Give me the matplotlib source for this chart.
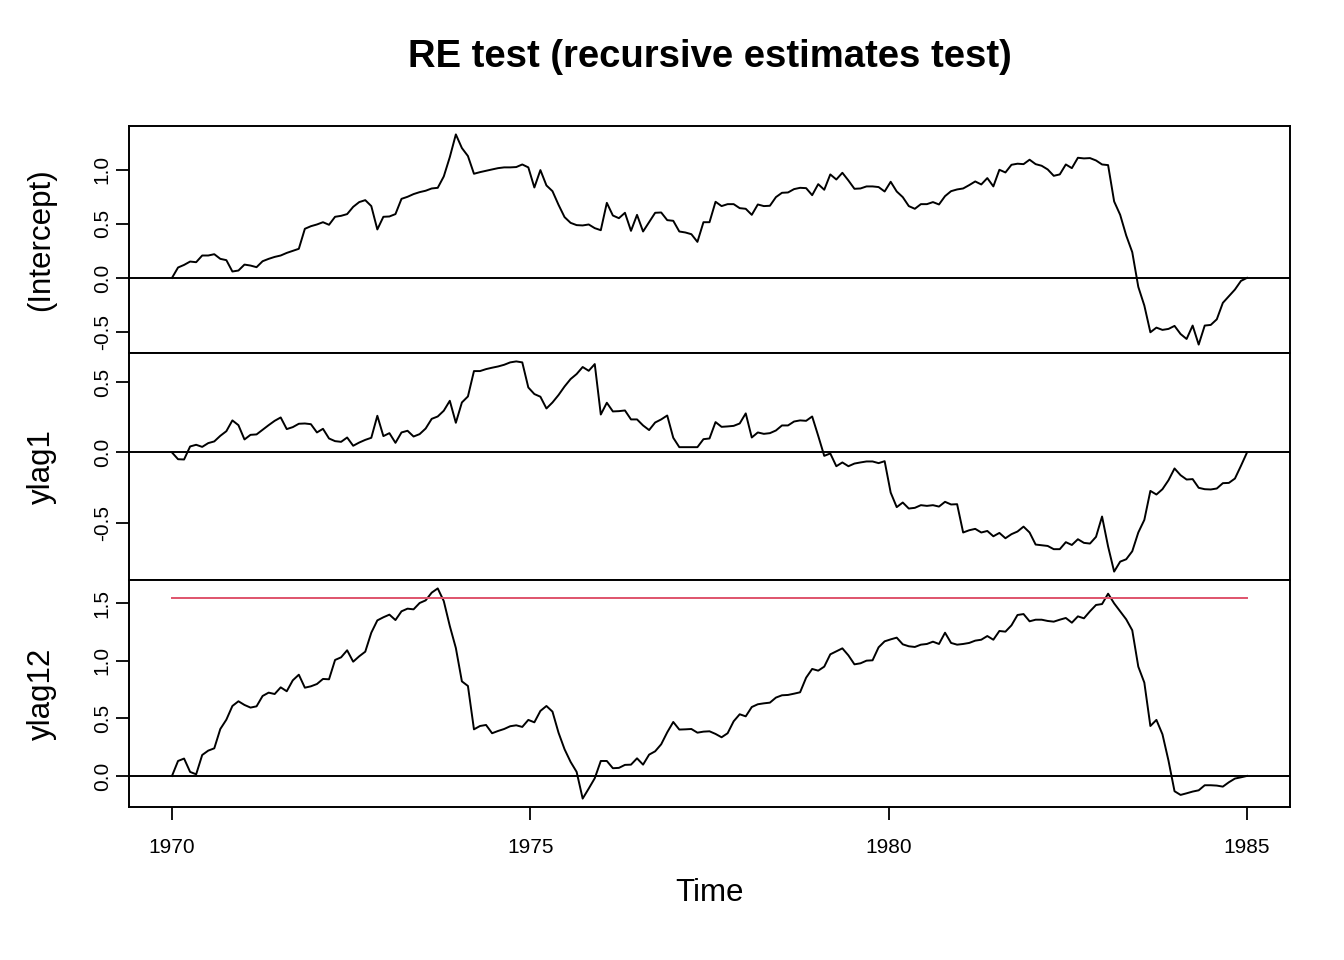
import numpy as np
import matplotlib
matplotlib.use("Agg")
import matplotlib.pyplot as plt

plt.rcParams['font.family'] = ['Liberation Sans', 'DejaVu Sans']

# recursive estimates, monthly, 1970 - 1985
intercept = [
    0.000, 0.096, 0.120, 0.151, 0.145, 0.207, 0.207, 0.219, 0.176, 0.164, 0.059, 0.068,
    0.123, 0.114, 0.099, 0.154, 0.176, 0.194, 0.207, 0.231, 0.250, 0.269, 0.454, 0.478,
    0.494, 0.515, 0.491, 0.565, 0.574, 0.590, 0.657, 0.701, 0.719, 0.664, 0.448, 0.565,
    0.568, 0.590, 0.731, 0.750, 0.775, 0.793, 0.806, 0.827, 0.833, 0.938, 1.117, 1.327,
    1.201, 1.127, 0.963, 0.978, 0.991, 1.003, 1.015, 1.022, 1.022, 1.025, 1.049, 1.022,
    0.836, 0.997, 0.855, 0.802, 0.676, 0.562, 0.509, 0.488, 0.485, 0.494, 0.460, 0.441,
    0.694, 0.577, 0.552, 0.602, 0.435, 0.583, 0.429, 0.515, 0.602, 0.605, 0.534, 0.528,
    0.429, 0.420, 0.404, 0.333, 0.515, 0.515, 0.704, 0.664, 0.682, 0.682, 0.645, 0.639,
    0.583, 0.679, 0.664, 0.667, 0.747, 0.787, 0.790, 0.821, 0.833, 0.830, 0.765, 0.867,
    0.815, 0.957, 0.910, 0.972, 0.901, 0.824, 0.827, 0.846, 0.846, 0.840, 0.799, 0.889,
    0.799, 0.747, 0.664, 0.639, 0.682, 0.682, 0.701, 0.679, 0.756, 0.802, 0.818, 0.827,
    0.858, 0.892, 0.864, 0.923, 0.846, 1.000, 0.975, 1.046, 1.056, 1.052, 1.093, 1.052,
    1.037, 1.003, 0.944, 0.957, 1.049, 1.015, 1.111, 1.105, 1.108, 1.086, 1.049, 1.043,
    0.707, 0.583, 0.392, 0.238, -0.083, -0.256, -0.503, -0.460, -0.481, -0.472, -0.444, -0.519,
    -0.565, -0.441, -0.617, -0.441, -0.435, -0.383, -0.231, -0.170, -0.108, -0.028, 0.000]

ylag1 = [
    0.000, -0.048, -0.050, 0.043, 0.055, 0.040, 0.067, 0.079, 0.119, 0.152, 0.229, 0.195,
    0.093, 0.126, 0.129, 0.162, 0.195, 0.226, 0.250, 0.167, 0.181, 0.205, 0.207, 0.202,
    0.143, 0.169, 0.100, 0.081, 0.076, 0.107, 0.048, 0.071, 0.090, 0.105, 0.262, 0.117,
    0.138, 0.069, 0.143, 0.155, 0.114, 0.131, 0.171, 0.240, 0.257, 0.298, 0.369, 0.212,
    0.357, 0.400, 0.581, 0.581, 0.595, 0.605, 0.614, 0.626, 0.643, 0.650, 0.643, 0.464,
    0.417, 0.398, 0.314, 0.357, 0.410, 0.471, 0.524, 0.560, 0.610, 0.583, 0.631, 0.271,
    0.355, 0.293, 0.295, 0.300, 0.236, 0.236, 0.193, 0.160, 0.214, 0.236, 0.264, 0.105,
    0.038, 0.038, 0.038, 0.038, 0.095, 0.100, 0.217, 0.183, 0.186, 0.190, 0.207, 0.279,
    0.107, 0.143, 0.133, 0.138, 0.157, 0.193, 0.193, 0.221, 0.229, 0.226, 0.257, 0.119,
    -0.024, -0.007, -0.098, -0.071, -0.098, -0.079, -0.071, -0.064, -0.064, -0.076, -0.062, -0.286,
    -0.390, -0.357, -0.400, -0.395, -0.376, -0.381, -0.376, -0.386, -0.352, -0.371, -0.369, -0.571,
    -0.555, -0.545, -0.571, -0.560, -0.598, -0.574, -0.612, -0.583, -0.564, -0.529, -0.571, -0.657,
    -0.662, -0.667, -0.690, -0.690, -0.640, -0.660, -0.619, -0.645, -0.650, -0.602, -0.457, -0.671,
    -0.850, -0.779, -0.762, -0.705, -0.571, -0.481, -0.274, -0.300, -0.262, -0.198, -0.114, -0.162,
    -0.193, -0.190, -0.252, -0.262, -0.264, -0.257, -0.219, -0.217, -0.186, -0.095, 0.000]

ylag12 = [
    0.000, 0.130, 0.151, 0.035, 0.014, 0.182, 0.220, 0.240, 0.408, 0.489, 0.608, 0.649,
    0.617, 0.594, 0.605, 0.695, 0.724, 0.712, 0.770, 0.736, 0.831, 0.880, 0.767, 0.779,
    0.799, 0.843, 0.840, 1.008, 1.031, 1.092, 0.993, 1.040, 1.080, 1.245, 1.352, 1.379,
    1.402, 1.355, 1.431, 1.454, 1.448, 1.503, 1.526, 1.593, 1.630, 1.520, 1.303, 1.112,
    0.822, 0.782, 0.405, 0.434, 0.443, 0.371, 0.391, 0.408, 0.432, 0.440, 0.426, 0.487,
    0.466, 0.565, 0.608, 0.559, 0.376, 0.232, 0.122, 0.035, -0.197, -0.110, -0.020, 0.130,
    0.130, 0.067, 0.070, 0.096, 0.098, 0.153, 0.098, 0.185, 0.214, 0.275, 0.379, 0.469,
    0.403, 0.405, 0.408, 0.376, 0.385, 0.388, 0.365, 0.336, 0.371, 0.475, 0.536, 0.518,
    0.599, 0.623, 0.631, 0.637, 0.681, 0.701, 0.704, 0.715, 0.727, 0.854, 0.930, 0.915,
    0.950, 1.057, 1.083, 1.109, 1.048, 0.970, 0.979, 1.002, 1.005, 1.118, 1.170, 1.187,
    1.202, 1.144, 1.127, 1.121, 1.141, 1.147, 1.167, 1.147, 1.245, 1.156, 1.141, 1.147,
    1.156, 1.176, 1.184, 1.216, 1.184, 1.260, 1.254, 1.309, 1.399, 1.407, 1.344, 1.358,
    1.358, 1.347, 1.341, 1.358, 1.373, 1.332, 1.387, 1.370, 1.431, 1.486, 1.494, 1.584,
    1.500, 1.431, 1.361, 1.266, 0.950, 0.811, 0.434, 0.487, 0.362, 0.133, -0.133, -0.165,
    -0.151, -0.136, -0.125, -0.081, -0.081, -0.084, -0.093, -0.055, -0.023, -0.012, 0.000]

panel_names = ['(Intercept)', 'ylag1', 'ylag12']
series = [intercept, ylag1, ylag12]
yticks = [[-0.5, 0.0, 0.5, 1.0], [-0.5, 0.0, 0.5], [0.0, 0.5, 1.0, 1.5]]
xticks = [1970, 1975, 1980, 1985]
start, end = 1970.0, 1985.0
boundary = 1.544  # critical value, only drawn for ylag12
boundary_panel = 2

fig, axes = plt.subplots(3, 1, figsize=(13.44, 9.6), dpi=100, sharex=True)
fig.subplots_adjust(left=129/1344, right=1290/1344, top=1-126/960, bottom=1-807/960, hspace=0)

def expand(lo, hi, f=0.04):
    d = (hi - lo) * f
    return lo - d, hi + d

for i, (ax, vals, name) in enumerate(zip(axes, series, panel_names)):
    vals = np.array(vals)
    t = np.linspace(start, end, len(vals))
    ax.plot(t, vals, color='black', lw=1.4)
    ax.axhline(0, color='black', lw=1.4)
    lo, hi = vals.min(), vals.max()
    if i == boundary_panel:
        ax.plot([start, end], [boundary, boundary], color='#DF536B', lw=1.4)
        hi = max(hi, boundary)
    ax.set_ylim(*expand(lo, hi))
    ax.set_yticks(yticks[i])
    ax.set_yticklabels([f'{v:.1f}' for v in yticks[i]])
    ax.tick_params(axis='y', labelrotation=90, length=9.4, width=1.3, pad=3, labelsize=15)
    plt.setp(ax.get_yticklabels(), va='center')
    ax.set_ylabel(name, fontsize=22.5, va='center')
    ax.yaxis.set_label_coords(-0.0754, 0.5)
    for s in ax.spines.values():
        s.set_linewidth(1.4)
    if i < 2:
        ax.tick_params(axis='x', bottom=False, labelbottom=False)

ax = axes[-1]
ax.set_xlim(*expand(start, end))
ax.set_xticks(xticks)
ax.set_xticklabels([str(x) for x in xticks])
ax.tick_params(axis='x', length=9.4, width=1.3, pad=13, labelsize=15)
ax.set_xlabel('Time', fontsize=22.5, va='center')
ax.xaxis.set_label_coords(0.5, -86/227)

fig.text(709.5/1344, 1-57/960, 'RE test (recursive estimates test)', ha='center', va='center',
         fontsize=27.5, fontweight='bold')

fig.savefig('out.png', dpi=100)
